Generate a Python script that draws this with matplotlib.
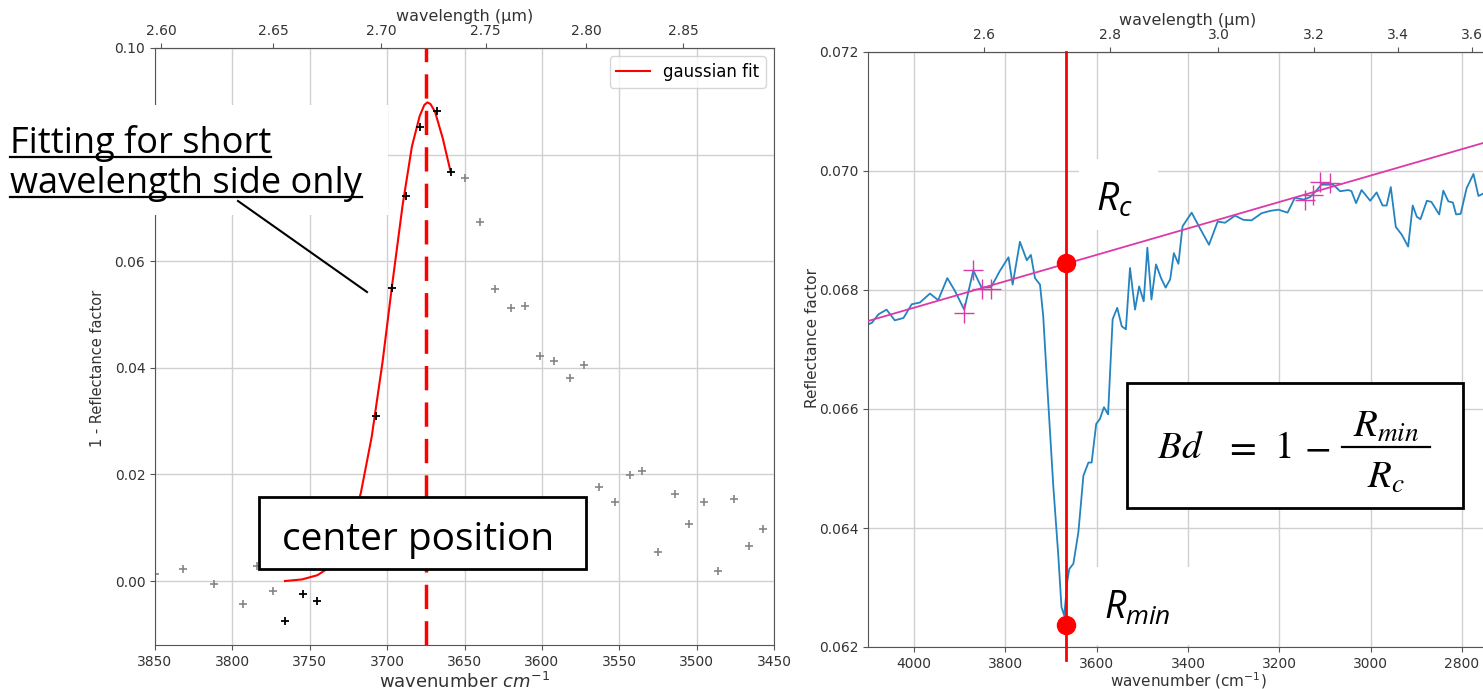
import numpy as np
import matplotlib
matplotlib.use("Agg")
import matplotlib.pyplot as plt
from matplotlib.patches import Rectangle
from matplotlib.lines import Line2D

# ---------------- data: left panel (band-center fit) ----------------
fit_wn = [3766, 3754.5, 3745, 3707, 3697, 3688, 3679, 3668, 3659]
fit_val = [-0.0075, -0.0024, -0.0038, 0.0310, 0.0549, 0.0722, 0.0851, 0.0881, 0.0768]

other_wn = [3850, 3832, 3812, 3793, 3784, 3774, 3650, 3640, 3630, 3620, 3611,
            3601, 3592, 3582, 3573, 3563, 3553, 3543, 3535, 3525, 3514, 3505,
            3495, 3486, 3476, 3466, 3457]
other_val = [0.0014, 0.0023, -0.0006, -0.0044, 0.0028, -0.0019, 0.0756, 0.0673,
             0.0547, 0.0513, 0.0516, 0.0423, 0.0412, 0.0381, 0.0406, 0.0176,
             0.0148, 0.0198, 0.0207, 0.0055, 0.0163, 0.0107, 0.0148, 0.0019,
             0.0153, 0.0066, 0.0098]

curve_wn = [3766, 3755, 3745, 3735, 3725, 3717, 3710, 3703, 3697, 3690, 3684,
            3679, 3676, 3674, 3672, 3669, 3664, 3659]
curve_val = [0.0000, 0.0003, 0.0011, 0.0030, 0.0085, 0.0165, 0.0270, 0.0410,
             0.0550, 0.0705, 0.0815, 0.0872, 0.0893, 0.0898, 0.0895, 0.0880,
             0.0830, 0.0768]

center_left = 3675
left_xticks = [3850, 3800, 3750, 3700, 3650, 3600, 3550, 3500, 3450]
left_yticks = [0.00, 0.02, 0.04, 0.06, 0.08, 0.10]
left_ytick_labels = ['0.00', '0.02', '0.04', '0.06', '', '0.10']  # 0.08 hidden by note
left_wl_ticks = [2.60, 2.65, 2.70, 2.75, 2.80, 2.85]

# ---------------- data: right panel (band depth) ----------------
spec_wn = [4107, 4092, 4078, 4060, 4042, 4023, 4005, 3987, 3965, 3947, 3927,
           3910, 3890, 3870, 3852, 3831, 3812, 3793, 3784, 3768, 3753, 3744,
           3735, 3724, 3717, 3706, 3695, 3684, 3677, 3671, 3664, 3660, 3651,
           3640, 3629, 3618, 3611, 3601, 3593, 3584, 3575, 3565, 3555, 3545,
           3536, 3527, 3516, 3507, 3497, 3489, 3480, 3470, 3459, 3449, 3439,
           3431, 3421, 3412, 3392, 3374, 3354, 3335, 3319, 3297, 3279, 3261,
           3239, 3220, 3202, 3182, 3166, 3147, 3133, 3118, 3108, 3097, 3082,
           3067, 3049, 3042, 3032, 3020, 3001, 2987, 2974, 2965, 2956, 2945,
           2932, 2918, 2908, 2899, 2891, 2877, 2867, 2850, 2841, 2830, 2820,
           2813, 2803, 2790, 2775, 2764, 2754]
spec_R = [0.06740, 0.06745, 0.06759, 0.06767, 0.06749, 0.06753, 0.06776,
          0.06779, 0.06794, 0.06783, 0.06820, 0.06798, 0.06767, 0.06833,
          0.06804, 0.06805, 0.06832, 0.06855, 0.06809, 0.06881, 0.06850,
          0.06859, 0.06820, 0.06809, 0.06756, 0.06611, 0.06471, 0.06354,
          0.06267, 0.06253, 0.06312, 0.06331, 0.06340, 0.06393, 0.06488,
          0.06510, 0.06510, 0.06575, 0.06583, 0.06603, 0.06591, 0.06751,
          0.06770, 0.06739, 0.06734, 0.06837, 0.06767, 0.06806, 0.06781,
          0.06871, 0.06784, 0.06843, 0.06820, 0.06804, 0.06818, 0.06862,
          0.06844, 0.06907, 0.06930, 0.06904, 0.06876, 0.06915, 0.06913,
          0.06925, 0.06918, 0.06917, 0.06929, 0.06933, 0.06935, 0.06930,
          0.06955, 0.06952, 0.06956, 0.06968, 0.06977, 0.06977, 0.06977,
          0.06966, 0.06968, 0.06966, 0.06946, 0.06968, 0.06950, 0.06964,
          0.06942, 0.06942, 0.06973, 0.06906, 0.06893, 0.06873, 0.06942,
          0.06923, 0.06919, 0.06950, 0.06948, 0.06927, 0.06967, 0.06949,
          0.06947, 0.06927, 0.06928, 0.06971, 0.06995, 0.06958, 0.06962]

cont_pts_wn = [3890, 3870, 3850, 3831, 3144, 3127, 3111, 3090]
cont_pts_R = [0.06762, 0.06834, 0.06802, 0.06802, 0.06952, 0.06960, 0.06981, 0.06980]
cont_line_wn = [4100, 2700]
cont_line_R = [0.06748, 0.07059]

center_right = 3668
dot_wn = [3668, 3668]
dot_R = [0.06845, 0.06237]

right_xticks = [4000, 3800, 3600, 3400, 3200, 3000, 2800]
right_yticks = [0.062, 0.064, 0.066, 0.068, 0.070, 0.072]
right_wl_ticks = [2.6, 2.8, 3.0, 3.2, 3.4, 3.6]

# ---------------- figure ----------------
plt.rcParams['mathtext.it'] = 'Open Sans:italic'
plt.rcParams['mathtext.rm'] = 'Open Sans'

W, H = 1483, 689
fig = plt.figure(figsize=(W / 100, H / 100), dpi=100)


def fx(px):
    return px / W


def fy(py):
    return 1 - py / H


def inv(x):
    x = np.asarray(x, dtype=float)
    with np.errstate(divide='ignore', invalid='ignore'):
        return 1e4 / x


GRID = '#d0d0d0'
SPINE = '#555555'
TICKLAB = '#333333'


def style(ax):
    for s in ax.spines.values():
        s.set_color(SPINE)
    ax.tick_params(colors=SPINE, labelcolor=TICKLAB, labelsize=10)
    ax.grid(True, color=GRID, lw=1)
    ax.set_axisbelow(True)


# ----- left axes -----
axL = fig.add_axes([fx(155), fy(645), fx(774) - fx(155), fy(48) - fy(645)])
style(axL)
axL.plot(curve_wn, curve_val, color='red', lw=1.5, label='gaussian fit', zorder=3)
axL.plot(other_wn, other_val, '+', color='#858585', ms=6, mew=1.2, zorder=2)
axL.plot(fit_wn, fit_val, '+', color='black', ms=6, mew=1.3, zorder=4)
axL.axvline(center_left, color='red', lw=2.5, dashes=(7, 3.5), zorder=3)
axL.set_xlim(3850, 3450)
axL.set_ylim(-0.012, 0.10)
axL.set_xticks(left_xticks)
axL.set_yticks(left_yticks)
axL.set_yticklabels(left_ytick_labels)
axL.set_xlabel(r'wavenumber $cm^{-1}$', fontsize=13, color='#333333', labelpad=2)
axL.set_ylabel('1 - Reflectance factor', fontsize=10.5, color='#333333')
axL.yaxis.set_label_coords(-0.081, 0.464)
axL.legend(loc='upper right', fontsize=12)

secL = axL.secondary_xaxis('top', functions=(inv, inv))
secL.set_xticks(left_wl_ticks)
secL.xaxis.set_major_formatter(matplotlib.ticker.FormatStrFormatter('%.2f'))
secL.tick_params(colors=SPINE, labelcolor=TICKLAB, labelsize=10)
secL.spines['top'].set_color(SPINE)
secL.set_xlabel('wavelength (µm)', fontsize=11.5, color='#333333', labelpad=2)

# ----- right axes -----
axR = fig.add_axes([fx(868.3), fy(647), 639.4 / W, fy(52) - fy(647)])
style(axR)
axR.plot(spec_wn, spec_R, color='#2384c0', lw=1.3, zorder=2)
axR.plot(cont_line_wn, cont_line_R, color='#dc3aa8', lw=1.3, zorder=3)
axR.plot(cont_pts_wn, cont_pts_R, '+', color='#dc3aa8', ms=14, mew=1.0, zorder=3)
axR.axvline(center_right, ymin=-0.022, ymax=1, color='red', lw=2, clip_on=False, zorder=4)
axR.plot(dot_wn, dot_R, 'o', color='red', ms=13, clip_on=False, zorder=5)
axR.set_xlim(4100, 2700)
axR.set_ylim(0.062, 0.072)
axR.set_xticks(right_xticks)
axR.set_yticks(right_yticks)
axR.yaxis.set_major_formatter(matplotlib.ticker.FormatStrFormatter('%.3f'))
axR.set_xlabel(r'wavenumber (cm$^{-1}$)', fontsize=11, color='#333333', labelpad=0)
axR.set_ylabel('Reflectance factor', fontsize=11, color='#333333')
axR.yaxis.set_label_coords(-0.075, 0.52)

secR = axR.secondary_xaxis('top', functions=(inv, inv))
secR.set_xticks(right_wl_ticks)
secR.xaxis.set_major_formatter(matplotlib.ticker.FormatStrFormatter('%.1f'))
secR.tick_params(colors=SPINE, labelcolor=TICKLAB, labelsize=10)
secR.spines['top'].set_color(SPINE)
secR.set_xlabel('wavelength (µm)', fontsize=11.5, color='#333333', labelpad=2)


# ---------------- annotations (figure pixel coordinates) ----------------
def px_rect(x0, y0, x1, y1, **kw):
    r = Rectangle((fx(x0), fy(y1)), fx(x1) - fx(x0), fy(y0) - fy(y1),
                  transform=fig.transFigure, **kw)
    fig.add_artist(r)
    return r


# "Fitting for short wavelength side only"
px_rect(0, 105, 388, 215, fc='white', ec='none', zorder=6)
t1 = fig.text(fx(10), fy(153), 'Fitting for short', fontsize=26, family='Open Sans',
              va='baseline', ha='left', zorder=7)
t2 = fig.text(fx(10), fy(193), 'wavelength side only', fontsize=26, family='Open Sans',
              va='baseline', ha='left', zorder=7)
fig.add_artist(Line2D([fx(238), fx(367)], [fy(201), fy(292)], transform=fig.transFigure,
                      color='black', lw=1.5, zorder=7))

# "center position" box
px_rect(259, 497, 586, 569, fc='white', ec='black', lw=2, zorder=6)
fig.text(fx(418), fy(550), 'center position', fontsize=28, family='Open Sans',
         va='baseline', ha='center', zorder=7)

# R_c and R_min labels
px_rect(1079, 159, 1158, 230, fc='white', ec='none', zorder=6)
fig.text(fx(1096), fy(211), r'$R_c$', fontsize=28, math_fontfamily='custom',
         va='baseline', ha='left', zorder=7)
px_rect(1084, 567, 1190, 645, fc='white', ec='none', zorder=6)
fig.text(fx(1104), fy(619), r'$R_{min}$', fontsize=27, math_fontfamily='custom',
         va='baseline', ha='left', zorder=7)

# Band depth formula  Bd = 1 - R_min / R_c
px_rect(1127, 383, 1463, 508, fc='white', ec='black', lw=2, zorder=6)
FS = 28
for s, xpx in ((r'$Bd$', 1157), (r'$=$', 1224), (r'$1$', 1274), (r'$-$', 1304)):
    fig.text(fx(xpx), fy(458), s, fontsize=FS, math_fontfamily='stix',
             va='baseline', ha='left', zorder=7)
fig.text(fx(1386), fy(437), r'$R_{min}$', fontsize=FS, math_fontfamily='stix',
         va='baseline', ha='center', zorder=7)
fig.text(fx(1386), fy(488), r'$R_c$', fontsize=FS, math_fontfamily='stix',
         va='baseline', ha='center', zorder=7)
fig.add_artist(Line2D([fx(1342), fx(1430)], [fy(447), fy(447)], transform=fig.transFigure,
                      color='black', lw=1.6, zorder=7))

# underlines for the annotation text
fig.canvas.draw()
rend = fig.canvas.get_renderer()
for t, base in ((t1, 153), (t2, 193)):
    bb = t.get_window_extent(renderer=rend)
    yy = fy(base + 4)
    fig.add_artist(Line2D([bb.x0 / W, bb.x1 / W], [yy, yy], transform=fig.transFigure,
                          color='black', lw=1.6, zorder=7))

fig.savefig('out.png', dpi=100)
